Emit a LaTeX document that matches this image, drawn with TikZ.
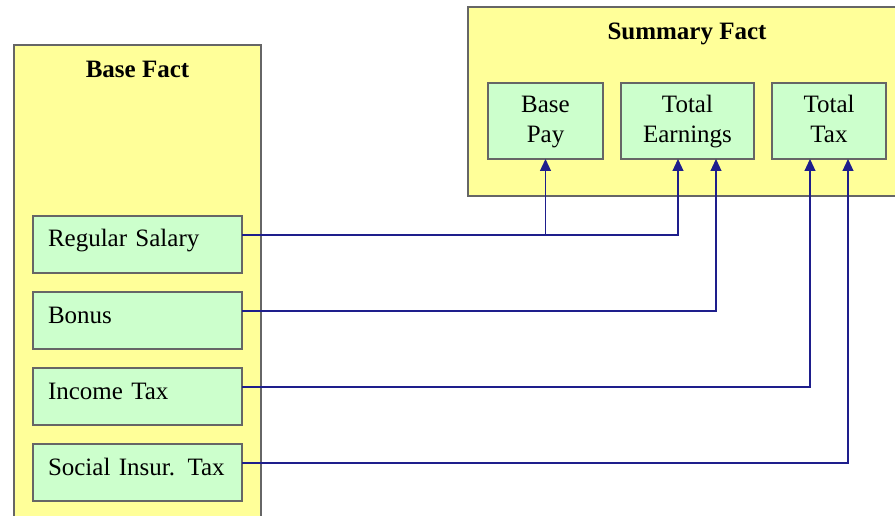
\documentclass[tikz,border=0pt]{standalone}
\usepackage{fontspec}
\setmainfont{LiberationSerif}[Extension=.ttf, UprightFont=*-Regular, BoldFont=*-Bold,
    ItalicFont=*-Italic, BoldItalicFont=*-BoldItalic]
\usetikzlibrary{arrows.meta, positioning, calc}
\definecolor{factfill}{HTML}{FFFF99}
\definecolor{measfill}{HTML}{CCFFCC}
\definecolor{edgegray}{HTML}{666666}
\definecolor{feedblue}{HTML}{1E1E8C}
\newcommand{\toprow}{\rule{0pt}{23pt}}

\begin{document}
\begin{tikzpicture}[x=1pt, y=-1pt,
    every node/.style={font=\fontsize{25}{30}\selectfont, outer sep=0pt},
    fact/.style={rectangle, draw=edgegray, line width=1.3pt, fill=factfill, inner sep=0pt},
    heading/.style={font=\fontsize{25}{30}\selectfont\bfseries},
    source/.style={rectangle, draw=edgegray, line width=1.3pt, fill=measfill,
                   minimum width=209pt, minimum height=57pt, text width=179pt,
                   inner xsep=15pt, align=left, text height=17pt, text depth=12pt},
    target/.style={rectangle, draw=edgegray, line width=1.3pt, fill=measfill,
                   minimum height=76pt, align=center, inner sep=0pt},
    feed/.style={draw=feedblue, line width=1.2pt, -{Triangle[length=12pt, width=11pt]}}
]
    \useasboundingbox (0,0) rectangle (895,516);
    % fact tables
    \node[fact, minimum width=247pt, minimum height=490pt, anchor=north west] (base) at (14,45) {};
    \node[heading] (basetitle) at ([yshift=-24pt]base.north) {Base Fact};
    \node[fact, minimum width=438pt, minimum height=189pt, anchor=north west] (summary) at (468,7) {};
    \node[heading] (summarytitle) at ([yshift=-27pt]summary.north) {Summary Fact};
    % base measures
    \node[source, anchor=north west] (regular) at (33,216) {Regular Salary};
    \node[source, below=19pt of regular] (bonus) {Bonus};
    \node[source, below=19pt of bonus] (income) {Income Tax};
    \node[source, below=19pt of income] (social) {Social Insur. Tax};
    % summary measures
    \node[target, minimum width=115pt, anchor=north west] (basepay) at (488,83) {\toprow Base\\Pay\strut};
    \node[target, minimum width=133pt, right=18pt of basepay] (earnings) {\toprow Total\\Earnings\strut};
    \node[target, minimum width=114pt, right=18pt of earnings] (totaltax) {\toprow Total\\Tax\strut};
    % feeds
    \coordinate (salarytap) at ([yshift=9.5pt]regular.east);
    \draw[feed] (salarytap) -| ([xshift=-9.5pt]earnings.south);
    \draw[feed] (basepay.south |- salarytap) -- (basepay.south);
    \draw[feed] ([yshift=9.5pt]bonus.east) -| ([xshift=28.5pt]earnings.south);
    \draw[feed] ([yshift=9.5pt]income.east) -| ([xshift=-19pt]totaltax.south);
    \draw[feed] ([yshift=9.5pt]social.east) -| ([xshift=19pt]totaltax.south);
\end{tikzpicture}
\end{document}
